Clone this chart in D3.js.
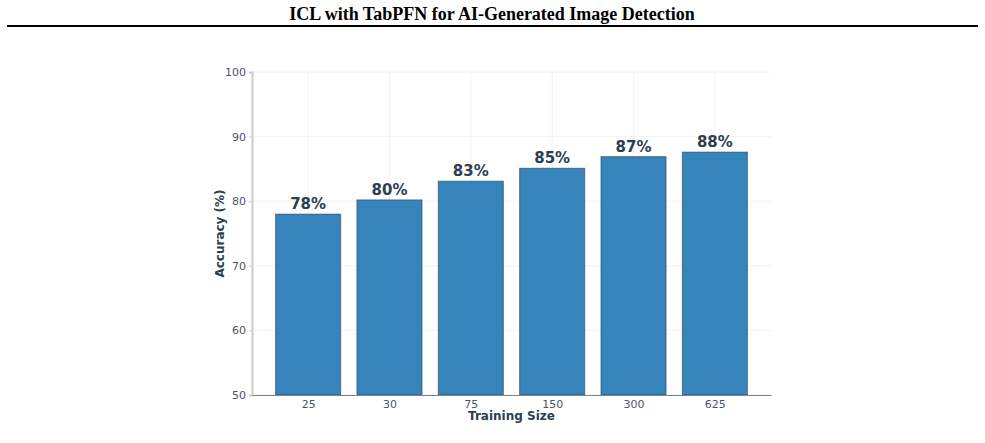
<!DOCTYPE html>
<html>
<head>
<meta charset="utf-8">
<script src="https://cdn.jsdelivr.net/npm/d3@7"></script>
<style>
  body { margin: 0; background: #fff; }
  svg { display: block; }
</style>
</head>
<body>
<svg id="chart"></svg>
<script>
// data
var sizes = ['25', '30', '75', '150', '300', '625'];
var accuracy = [78.0, 80.2, 83.1, 85.1, 86.9, 87.6];
var yTicks = [50, 60, 70, 80, 90, 100];

var width = 985;
var height = 443;

var svg = d3.select('#chart')
  .attr('width', width)
  .attr('height', height);

// page title and rule
svg.append('text')
  .attr('x', 492)
  .attr('y', 20)
  .attr('text-anchor', 'middle')
  .style('font-family', '"Liberation Serif", "Times New Roman", serif')
  .style('font-weight', 'bold')
  .style('font-size', '18px')
  .text('ICL with TabPFN for AI-Generated Image Detection');

svg.append('line')
  .attr('x1', 7).attr('x2', 978)
  .attr('y1', 26).attr('y2', 26)
  .attr('stroke', '#000')
  .attr('stroke-width', 2);

// plot area (window.top is reserved, so use plot* names)
var plotLeft = 252, plotRight = 771, plotTop = 72, plotBottom = 395;

var x = d3.scaleLinear()
  .domain([-0.69, sizes.length - 1 + 0.69])
  .range([plotLeft, plotRight]);
var y = d3.scaleLinear()
  .domain([50, 100])
  .range([plotBottom, plotTop]);
var barW = x(0.8) - x(0);

var g = svg.append('g');

// faint grid
g.selectAll('line.hgrid')
  .data(yTicks)
  .enter().append('line')
  .attr('class', 'hgrid')
  .attr('x1', plotLeft).attr('x2', plotRight)
  .attr('y1', function(d) { return y(d); })
  .attr('y2', function(d) { return y(d); })
  .attr('stroke', '#efefef')
  .attr('stroke-width', 0.8);

g.selectAll('line.vgrid')
  .data(sizes)
  .enter().append('line')
  .attr('class', 'vgrid')
  .attr('x1', function(d, i) { return x(i); })
  .attr('x2', function(d, i) { return x(i); })
  .attr('y1', plotTop).attr('y2', plotBottom)
  .attr('stroke', '#efefef')
  .attr('stroke-width', 0.8);

// bars
g.selectAll('rect.bar')
  .data(accuracy)
  .enter().append('rect')
  .attr('class', 'bar')
  .attr('x', function(d, i) { return x(i) - barW / 2; })
  .attr('y', function(d) { return y(d); })
  .attr('width', barW)
  .attr('height', function(d) { return y(50) - y(d); })
  .attr('fill', '#3584bc')
  .attr('stroke', '#2c3e50')
  .attr('stroke-opacity', 0.6)
  .attr('stroke-width', 1);

// value labels
g.selectAll('text.val')
  .data(accuracy)
  .enter().append('text')
  .attr('class', 'val')
  .attr('x', function(d, i) { return x(i); })
  .attr('y', function(d) { return y(d) - 5; })
  .attr('text-anchor', 'middle')
  .style('font-family', '"DejaVu Sans", sans-serif')
  .style('font-weight', 'bold')
  .style('font-size', '15px')
  .attr('fill', '#2c3e50')
  .text(function(d) { return Math.round(d) + '%'; });

// axes
var yAxis = d3.axisLeft(y).tickValues(yTicks).tickSize(3).tickPadding(3);
var xAxis = d3.axisBottom(x)
  .tickValues(d3.range(sizes.length))
  .tickFormat(function(i) { return sizes[i]; })
  .tickSize(0).tickPadding(5);

var ya = svg.append('g')
  .attr('transform', 'translate(' + plotLeft + ',0)')
  .call(yAxis);
ya.select('.domain').attr('stroke', '#c8ccd0').attr('stroke-width', 2);
ya.selectAll('.tick line').attr('stroke', '#c8ccd0');

var xa = svg.append('g')
  .attr('transform', 'translate(0,' + plotBottom + ')')
  .call(xAxis);
xa.select('.domain').attr('stroke', '#7a8591').attr('stroke-width', 1.2);

svg.selectAll('.tick text')
  .style('font-family', '"DejaVu Sans", sans-serif')
  .style('font-size', '11px')
  .attr('fill', '#4a5568');

// axis titles
svg.append('text')
  .attr('x', (plotLeft + plotRight) / 2)
  .attr('y', 420)
  .attr('text-anchor', 'middle')
  .style('font-family', '"DejaVu Sans", sans-serif')
  .style('font-weight', 'bold')
  .style('font-size', '12px')
  .attr('fill', '#2c3e50')
  .text('Training Size');

svg.append('text')
  .attr('transform', 'translate(224,' + ((plotTop + plotBottom) / 2) + ') rotate(-90)')
  .attr('text-anchor', 'middle')
  .style('font-family', '"DejaVu Sans", sans-serif')
  .style('font-weight', 'bold')
  .style('font-size', '12px')
  .attr('fill', '#2c3e50')
  .text('Accuracy (%)');
</script>
</body>
</html>
